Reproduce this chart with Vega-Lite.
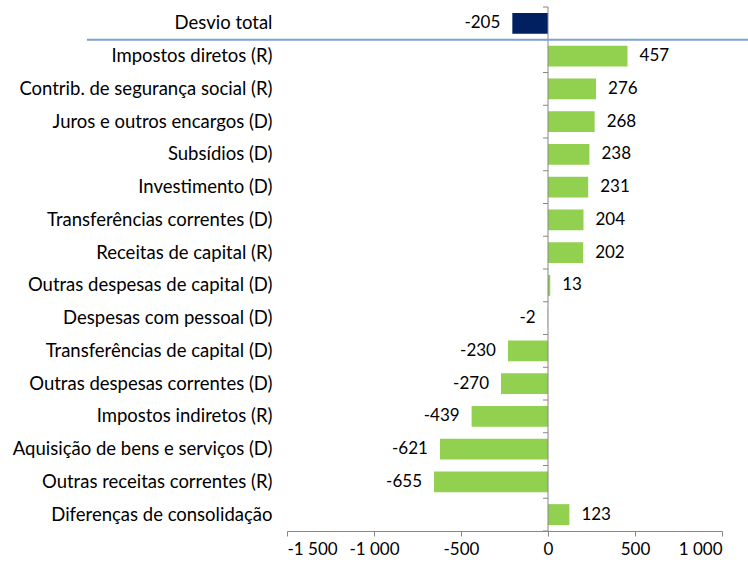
{
  "$schema": "https://vega.github.io/schema/vega-lite/v6.json",
  "autosize": {"type": "none"},
  "width": 435,
  "height": 524,
  "padding": {"left": 287, "top": 7, "right": 26, "bottom": 32},
  "background": "white",
  "config": {
    "view": {"stroke": null},
    "font": "Lato",
    "axis": {"labelFont": "Lato", "labelColor": "#000000"}
  },
  "data": {
    "values": [
      {"cat": "Desvio total", "v": -205},
      {"cat": "Impostos diretos  (R)", "v": 457},
      {"cat": "Contrib. de segurança social (R)", "v": 276},
      {"cat": "Juros e outros encargos (D)", "v": 268},
      {"cat": "Subsídios (D)", "v": 238},
      {"cat": "Investimento (D)", "v": 231},
      {"cat": "Transferências correntes (D)", "v": 204},
      {"cat": "Receitas de capital (R)", "v": 202},
      {"cat": "Outras despesas de capital (D)", "v": 13},
      {"cat": "Despesas com pessoal (D)", "v": -2},
      {"cat": "Transferências de capital (D)", "v": -230},
      {"cat": "Outras despesas correntes (D)", "v": -270},
      {"cat": "Impostos indiretos (R)", "v": -439},
      {"cat": "Aquisição de bens e serviços  (D)", "v": -621},
      {"cat": "Outras receitas correntes (R)", "v": -655},
      {"cat": "Diferenças de consolidação", "v": 123}
    ]
  },
  "layer": [
    {
      "mark": {"type": "bar"},
      "encoding": {
        "y": {
          "field": "cat", "type": "nominal", "sort": null,
          "scale": {"paddingInner": 0.36, "paddingOuter": 0.18},
          "axis": {"title": null, "orient": "left", "domain": false, "ticks": false, "labelPadding": 15, "labelLimit": 400, "labelFontSize": 18.5}
        },
        "x": {
          "field": "v", "type": "quantitative",
          "scale": {"domain": [-1500, 1000], "nice": false, "zero": false},
          "axis": {
            "title": null, "values": [-1500, -1000, -500, 0, 500, 1000],
            "grid": false, "domainColor": "#868686", "tickColor": "#868686", "tickSize": 5,
            "labelPadding": 5, "labelFontSize": 17,
            "labelExpr": "replace(replace(format(datum.value, ','), ',', ' '), '\u2212', '-')"
          }
        },
        "color": {
          "condition": {"test": "datum.cat === 'Desvio total'", "value": "#002060"},
          "value": "#92D050"
        }
      }
    },
    {
      "mark": {"type": "rule", "color": "#868686", "strokeWidth": 1},
      "encoding": {
        "y": {"field": "cat", "type": "nominal", "sort": null, "bandPosition": -0.28125},
        "x": {"datum": -29, "type": "quantitative"},
        "x2": {"datum": 0}
      }
    },
    {
      "data": {"values": [{}]},
      "mark": {"type": "rule", "color": "#868686", "strokeWidth": 1},
      "encoding": {
        "y": {"datum": "Diferenças de consolidação", "type": "nominal", "bandPosition": 1.28125},
        "x": {"datum": -29, "type": "quantitative"},
        "x2": {"datum": 0}
      }
    },
    {
      "data": {"values": [{}]},
      "mark": {"type": "rule", "color": "#868686", "strokeWidth": 1},
      "encoding": {
        "x": {"datum": 0, "type": "quantitative"}
      }
    },
    {
      "transform": [{"filter": "datum.v >= 0"}],
      "mark": {"type": "text", "align": "left", "dx": 12, "fontSize": 17, "font": "Lato", "color": "#000000"},
      "encoding": {
        "y": {"field": "cat", "type": "nominal", "sort": null},
        "x": {"field": "v", "type": "quantitative"},
        "text": {"field": "v", "type": "nominal"}
      }
    },
    {
      "transform": [{"filter": "datum.v < 0"}],
      "mark": {"type": "text", "align": "right", "dx": -12, "fontSize": 17, "font": "Lato", "color": "#000000"},
      "encoding": {
        "y": {"field": "cat", "type": "nominal", "sort": null},
        "x": {"field": "v", "type": "quantitative"},
        "text": {"field": "v", "type": "nominal"}
      }
    },
    {
      "data": {"values": [{}]},
      "mark": {"type": "rule", "color": "#7DA1D4", "strokeWidth": 2},
      "encoding": {
        "y": {"datum": "Desvio total", "type": "nominal", "bandPosition": 1.28},
        "x": {"datum": -2650, "type": "quantitative"},
        "x2": {"datum": 1700}
      }
    }
  ]
}
